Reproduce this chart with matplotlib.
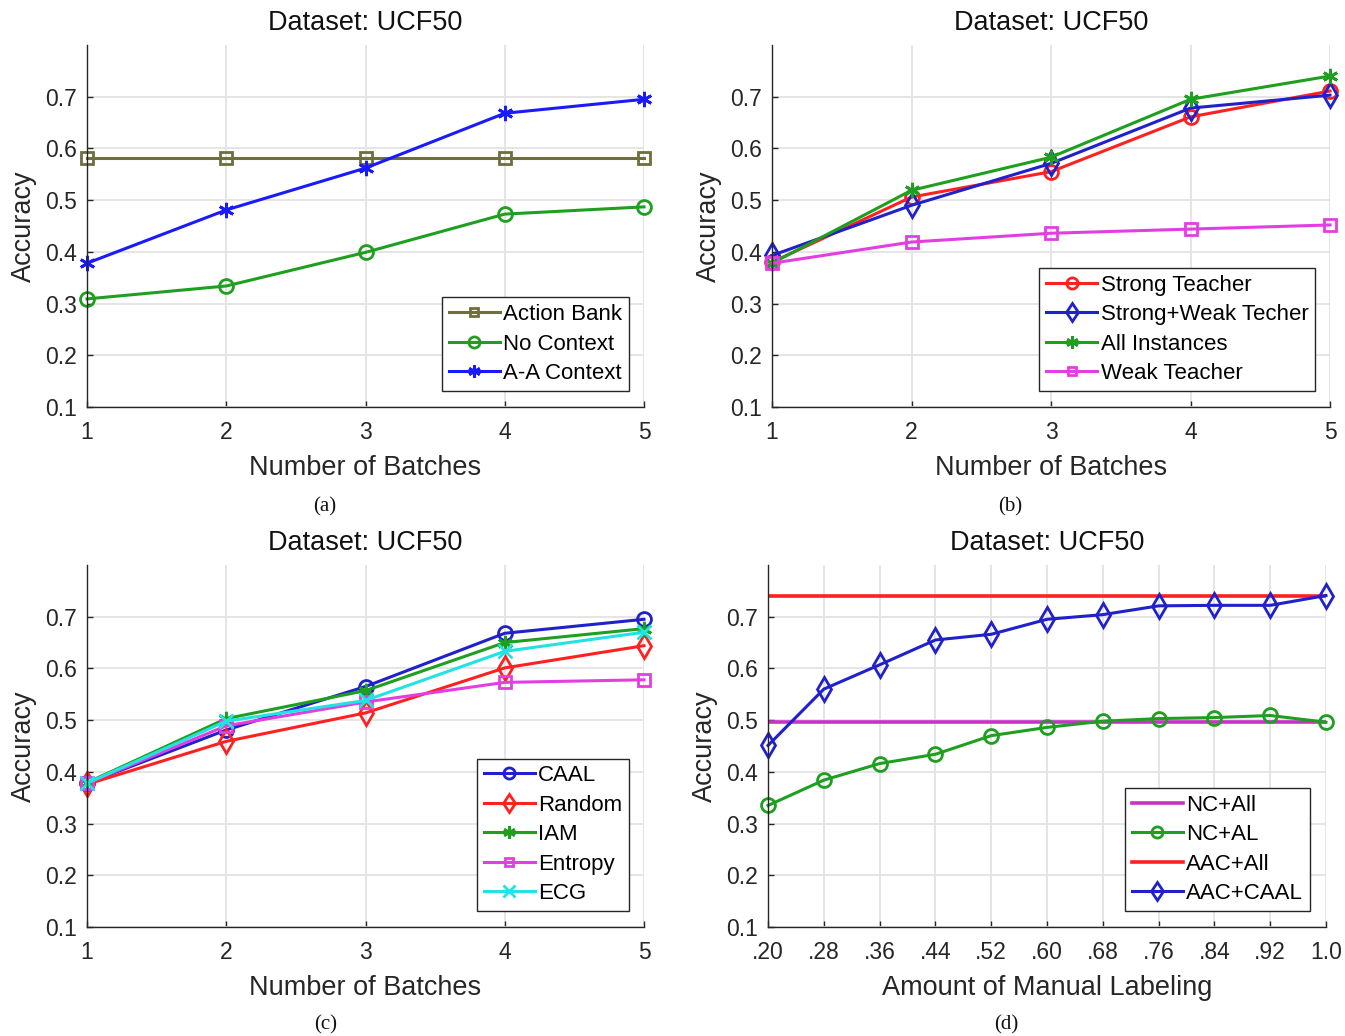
import numpy as np
import matplotlib
matplotlib.use('Agg')
import matplotlib.pyplot as plt

plt.rcParams['font.family'] = ['Liberation Sans', 'DejaVu Sans']

# accuracy vs. number of batches
batches = [1, 2, 3, 4, 5]

# (a) context models
action_bank = [0.581, 0.581, 0.581, 0.581, 0.581]
no_context = [0.309, 0.334, 0.399, 0.473, 0.487]
aa_context = [0.378, 0.481, 0.562, 0.668, 0.695]

# (b) teachers
strong_teacher = [0.380, 0.506, 0.555, 0.661, 0.711]
strong_weak_teacher = [0.393, 0.490, 0.571, 0.678, 0.703]
all_instances = [0.378, 0.519, 0.583, 0.695, 0.740]
weak_teacher = [0.378, 0.419, 0.436, 0.444, 0.452]

# (c) selection strategies
caal = [0.378, 0.481, 0.565, 0.668, 0.695]
random_sel = [0.376, 0.459, 0.514, 0.601, 0.644]
iam = [0.379, 0.503, 0.557, 0.650, 0.677]
entropy = [0.378, 0.489, 0.535, 0.573, 0.578]
ecg = [0.378, 0.498, 0.538, 0.633, 0.670]

# (d) amount of manual labeling
manual = [0.20, 0.28, 0.36, 0.44, 0.52, 0.60, 0.68, 0.76, 0.84, 0.92, 1.00]
manual_labels = ['.20', '.28', '.36', '.44', '.52', '.60', '.68', '.76', '.84', '.92', '1.0']
nc_all = 0.497
aac_all = 0.740
nc_al = [0.335, 0.384, 0.416, 0.434, 0.470, 0.486, 0.498, 0.503, 0.505, 0.509, 0.496]
aac_caal = [0.451, 0.560, 0.607, 0.655, 0.666, 0.695, 0.704, 0.721, 0.722, 0.722, 0.741]

OLIVE = '#6e6e3e'
GREEN = '#1f9f1f'
BLUE_A = '#1a1aff'
BLUE = '#2020cc'
RED = '#ff2020'
MAGENTA = '#e23ee2'
MAGENTA_D = '#c832c8'
CYAN = '#22e2e2'
ASTERISK = (6, 2, 0)

fig = plt.figure(figsize=(13.45, 10.36), dpi=100)

W = 557 / 1345
H = 362 / 1036
ax_a = fig.add_axes([87 / 1345, 1 - 407 / 1036, W, H])
ax_b = fig.add_axes([772 / 1345, 1 - 407 / 1036, 558 / 1345, H])
ax_c = fig.add_axes([87 / 1345, 1 - 927 / 1036, W, H])
ax_d = fig.add_axes([768 / 1345, 1 - 927 / 1036, 558 / 1345, H])


def style(ax, xticks, xlabels, xlabel):
    ax.set_ylim(0.1, 0.8)
    ax.set_xlim(xticks[0], xticks[-1])
    ax.set_yticks([0.1, 0.2, 0.3, 0.4, 0.5, 0.6, 0.7])
    ax.set_yticklabels(['0.1', '0.2', '0.3', '0.4', '0.5', '0.6', '0.7'])
    ax.set_xticks(xticks)
    ax.set_xticklabels(xlabels)
    ax.grid(True, color='#e3e3e3', linewidth=1.3)
    ax.set_axisbelow(True)
    for s in ['top', 'right']:
        ax.spines[s].set_visible(False)
    for s in ['left', 'bottom']:
        ax.spines[s].set_color('#262626')
        ax.spines[s].set_linewidth(1.0)
    ax.tick_params(direction='in', length=4, width=1, colors='#262626',
                   labelsize=16.5, labelcolor='#262626')
    ax.tick_params(axis='x', pad=10)
    ax.tick_params(axis='y', pad=7)
    ax.set_title('Dataset: UCF50', fontsize=19.5, color='#111111', pad=11)
    ax.set_xlabel(xlabel, fontsize=19.5, color='#262626', labelpad=8)
    ax.set_ylabel('Accuracy', fontsize=19.5, color='#262626', labelpad=6)


def legend(ax, x):
    leg = ax.legend(loc='lower right', bbox_to_anchor=(x, 0.045), fontsize=16,
                    frameon=True, fancybox=False, framealpha=1, edgecolor='#262626',
                    handlelength=2.3, handletextpad=0.15, labelspacing=0.38,
                    borderpad=0.3, borderaxespad=0, markerscale=0.8)
    leg.get_frame().set_linewidth(1.0)


line_kw = dict(linewidth=2.2, markerfacecolor='none', markeredgewidth=2.0, clip_on=False)

# (a)
ax_a.plot(batches, action_bank, color=OLIVE, marker='s', markersize=8, label='Action Bank', **line_kw)
ax_a.plot(batches, no_context, color=GREEN, marker='o', markersize=10, label='No Context', **line_kw)
ax_a.plot(batches, aa_context, color=BLUE_A, marker=ASTERISK, markersize=11, label='A-A Context', **line_kw)
style(ax_a, batches, [str(b) for b in batches], 'Number of Batches')
legend(ax_a, 0.973)

# (b)
ax_b.plot(batches, strong_teacher, color=RED, marker='o', markersize=10, label='Strong Teacher', **line_kw)
ax_b.plot(batches, strong_weak_teacher, color=BLUE, marker='d', markersize=12, label='Strong+Weak Techer', **line_kw)
ax_b.plot(batches, all_instances, color=GREEN, marker=ASTERISK, markersize=11, label='All Instances', **line_kw)
ax_b.plot(batches, weak_teacher, color=MAGENTA, marker='s', markersize=8, label='Weak Teacher', **line_kw)
style(ax_b, batches, [str(b) for b in batches], 'Number of Batches')
legend(ax_b, 0.973)

# (c)
ax_c.plot(batches, caal, color=BLUE, marker='o', markersize=10, label='CAAL', **line_kw)
ax_c.plot(batches, random_sel, color=RED, marker='d', markersize=12, label='Random', **line_kw)
ax_c.plot(batches, iam, color=GREEN, marker=ASTERISK, markersize=11, label='IAM', **line_kw)
ax_c.plot(batches, entropy, color=MAGENTA, marker='s', markersize=8, label='Entropy', **line_kw)
ax_c.plot(batches, ecg, color=CYAN, marker='x', markersize=10, label='ECG', **line_kw)
style(ax_c, batches, [str(b) for b in batches], 'Number of Batches')
legend(ax_c, 0.973)

# (d)
ax_d.plot(manual, [nc_all] * len(manual), color=MAGENTA_D, linewidth=2.6, label='NC+All')
ax_d.plot(manual, nc_al, color=GREEN, marker='o', markersize=10, label='NC+AL', **line_kw)
ax_d.plot(manual, [aac_all] * len(manual), color=RED, linewidth=2.6, label='AAC+All')
ax_d.plot(manual, aac_caal, color=BLUE, marker='d', markersize=12, label='AAC+CAAL', **line_kw)
style(ax_d, manual, manual_labels, 'Amount of Manual Labeling')
legend(ax_d, 0.971)

# subfigure captions
for ax, cap, y in [(ax_a, '(a)', 507), (ax_b, '(b)', 507), (ax_c, '(c)', 1025), (ax_d, '(d)', 1025)]:
    pos = ax.get_position()
    fig.text(pos.x0 + pos.width / 2 - 0.03, 1 - y / 1036, cap, ha='center', va='center',
             fontsize=15, family=['Liberation Serif', 'DejaVu Serif'], color='#111111')

fig.savefig('out.png', dpi=100)
